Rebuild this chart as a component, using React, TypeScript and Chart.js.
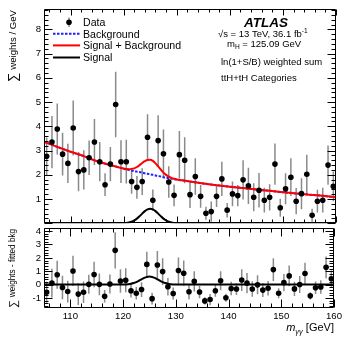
import React, { useEffect, useRef } from 'react';
import { Chart, registerables } from 'chart.js';

Chart.register(...registerables);

const FONT = "'Liberation Sans', Arial, Helvetica, sans-serif";

// ---------------- data ----------------
const massBins = [
  105.5, 106.5, 107.5, 108.5, 109.5, 110.5, 111.5, 112.5, 113.5, 114.5,
  115.5, 116.5, 117.5, 118.5, 119.5, 120.5, 121.5, 122.5, 123.5, 124.5,
  125.5, 126.5, 127.5, 128.5, 129.5, 130.5, 131.5, 132.5, 133.5, 134.5,
  135.5, 136.5, 137.5, 138.5, 139.5, 140.5, 141.5, 142.5, 143.5, 144.5,
  145.5, 146.5, 147.5, 148.5, 149.5, 150.5, 151.5, 152.5, 153.5, 154.5,
  155.5, 156.5, 157.5, 158.5, 159.5,
];

const dataValues = [
  2.76, 3.35, 3.89, 2.85, 2.47, 3.93, 2.13, 2.2, 2.7, 3.35,
  2.54, 1.59, 2.44, 4.9, 2.54, 2.54, 1.72, 1.48, 1.72, 3.55,
  0.95, 3.41, 2.87, 1.7, 1.15, 2.83, 2.6, 1.18, 1.93, 1.11,
  0.41, 0.48, 1.11, 1.83, 0.54, 1.21, 1.14, 1.79, 1.54, 1.07,
  1.36, 0.95, 1.07, 2.44, 0.64, 1.42, 1.9, 0.91, 1.22, 2.02,
  0.33, 0.91, 0.95, 2.4, 1.52,
];

const dataErrors = [
  0.78, 1.08, 1.05, 0.88, 0.81, 1.13, 0.81, 0.81, 0.71, 0.95,
  0.81, 0.47, 0.71, 1.35, 0.88, 0.9, 0.5, 0.47, 0.55, 0.95,
  0.44, 1.05, 1.0, 0.65, 0.45, 0.98, 0.95, 0.55, 0.75, 0.47,
  0.27, 0.42, 0.44, 0.71, 0.3, 0.51, 0.44, 0.81, 0.75, 0.58,
  0.71, 0.51, 0.54, 0.85, 0.37, 0.64, 0.78, 0.54, 0.64, 0.81,
  0.27, 0.47, 0.51, 0.81, 0.61,
];

const residualValues = [
  -0.57, 0.11, 0.74, -0.22, -0.52, 1.02, -0.71, -0.57, 0.02, 0.76,
  0.02, -0.87, 0.04, 2.56, 0.27, 0.32, -0.46, -0.65, -0.37, 1.51,
  -1.05, 1.46, 0.97, -0.16, -0.67, 1.05, 0.85, -0.54, 0.24, -0.55,
  -1.22, -1.12, -0.46, 0.28, -0.98, -0.29, -0.33, 0.34, 0.11, -0.33,
  -0.02, -0.41, -0.27, 1.12, -0.65, 0.15, 0.65, -0.32, 0.01, 0.83,
  -0.84, -0.24, -0.18, 1.29, 0.44,
];

const bkgMass = [
  105, 107.5, 110, 112.5, 115, 117.5,
  119, 119.5, 120, 120.5, 121, 121.5, 122, 122.5, 123, 123.5, 124, 124.5, 125,
  125.5, 126, 126.5, 127, 127.5, 128, 128.5, 129, 129.5, 130, 130.5, 131,
  132.5, 135, 137.5, 140, 142.5, 145, 147.5, 150, 152.5, 155, 157.5, 160,
];
const bkgValues = [
  3.37, 3.15, 2.95, 2.77, 2.56, 2.4,
  2.31, 2.28, 2.25, 2.22, 2.2, 2.18, 2.15, 2.13, 2.11, 2.09, 2.06, 2.04, 2.02,
  2.0, 1.97, 1.95, 1.93, 1.9, 1.88, 1.86, 1.84, 1.82, 1.8, 1.78, 1.77,
  1.72, 1.64, 1.57, 1.51, 1.45, 1.39, 1.34, 1.28, 1.23, 1.18, 1.13, 1.07,
];

const signalMass = [
  105,
  119, 119.5, 120, 120.5, 121, 121.5, 122, 122.5, 123, 123.5, 124, 124.5, 125,
  125.5, 126, 126.5, 127, 127.5, 128, 128.5, 129, 129.5, 130, 130.5, 131,
  160,
];
const signalValues = [
  0,
  0.001, 0.002, 0.006, 0.015, 0.032, 0.063, 0.115, 0.19, 0.288, 0.397, 0.499, 0.573, 0.6,
  0.573, 0.499, 0.397, 0.288, 0.19, 0.115, 0.063, 0.032, 0.015, 0.006, 0.002, 0.001,
  0,
];

const xTickValues = [110, 120, 130, 140, 150, 160];
const topYTickValues = [1, 2, 3, 4, 5, 6, 7, 8];
const bottomYTickValues = [-1, 0, 1, 2, 3, 4];
const legendLabels = ['Data', 'Background', 'Signal + Background', 'Signal'];

// ---------------- helpers ----------------
const signalAt = (m: number) => {
  const i = signalMass.indexOf(m);
  return i >= 0 ? signalValues[i] : 0;
};

type Seg = { t: string; size: number; dy?: number; bold?: boolean; italic?: boolean };
function segFont(s: Seg) {
  return `${s.italic ? 'italic ' : ''}${s.bold ? 'bold ' : ''}${s.size}px ${FONT}`;
}
function measureSegs(ctx: CanvasRenderingContext2D, segs: Seg[]) {
  let w = 0;
  for (const s of segs) {
    ctx.font = segFont(s);
    w += ctx.measureText(s.t).width;
  }
  return w;
}
function drawSegs(ctx: CanvasRenderingContext2D, x: number, y: number, segs: Seg[]) {
  let cx = x;
  for (const s of segs) {
    ctx.font = segFont(s);
    ctx.fillText(s.t, cx, y + (s.dy || 0));
    cx += ctx.measureText(s.t).width;
  }
}

function drawRotatedTitle(
  ctx: CanvasRenderingContext2D, baseX: number, bottomY: number,
  sigmaSize: number, textSize: number, text: string,
) {
  ctx.save();
  ctx.translate(baseX, bottomY);
  ctx.rotate(-Math.PI / 2);
  ctx.fillStyle = '#000';
  ctx.textAlign = 'left';
  ctx.textBaseline = 'alphabetic';
  ctx.font = `${sigmaSize}px ${FONT}`;
  ctx.fillText('\u2211', 0, 1.5);
  const sw = ctx.measureText('\u2211').width;
  ctx.font = `${textSize}px ${FONT}`;
  ctx.fillText(text, sw + 3, 0);
  ctx.restore();
}

type FrameCfg = {
  xMajor: number; xMinor: number; yMajor: number; yMinor: number;
  xMajLen: number; xMinLen: number; yMajLen: number; yMinLen: number;
};

function makeFramePlugin(cfg: FrameCfg) {
  return {
    id: 'frameTicks',
    afterDraw(chart: any) {
      const { ctx, chartArea: a } = chart;
      const xs = chart.scales.x;
      const ys = chart.scales.y;
      const L = Math.round(a.left) + 0.5;
      const R = Math.round(a.right) - 0.5;
      const T = Math.round(a.top) + 0.5;
      const B = Math.round(a.bottom) - 0.5;
      ctx.save();
      ctx.strokeStyle = '#000';
      ctx.lineWidth = 1;
      ctx.beginPath();
      ctx.rect(L, T, R - L, B - T);
      ctx.stroke();
      ctx.beginPath();
      const isMaj = (v: number, maj: number) => Math.abs(v / maj - Math.round(v / maj)) < 1e-6;
      for (let k = Math.ceil(xs.min / cfg.xMinor); k <= Math.floor(xs.max / cfg.xMinor); k++) {
        const v = k * cfg.xMinor;
        const len = isMaj(v, cfg.xMajor) ? cfg.xMajLen : cfg.xMinLen;
        const px = Math.round(xs.getPixelForValue(v)) + 0.5;
        ctx.moveTo(px, B); ctx.lineTo(px, B - len);
        ctx.moveTo(px, T); ctx.lineTo(px, T + len);
      }
      for (let k = Math.ceil(ys.min / cfg.yMinor - 1e-9); k <= Math.floor(ys.max / cfg.yMinor + 1e-9); k++) {
        const v = k * cfg.yMinor;
        const len = isMaj(v, cfg.yMajor) ? cfg.yMajLen : cfg.yMinLen;
        const py = Math.round(ys.getPixelForValue(v)) + 0.5;
        ctx.moveTo(L, py); ctx.lineTo(L + len, py);
        ctx.moveTo(R, py); ctx.lineTo(R - len, py);
      }
      ctx.stroke();
      ctx.restore();
    },
  };
}

function makeErrorBarPlugin(values: number[], errors: number[]) {
  return {
    id: 'errorBars',
    beforeDatasetsDraw(chart: any) {
      const { ctx, chartArea: a } = chart;
      const xs = chart.scales.x;
      const ys = chart.scales.y;
      ctx.save();
      ctx.beginPath();
      ctx.rect(a.left, a.top, a.right - a.left, a.bottom - a.top);
      ctx.clip();
      ctx.strokeStyle = '#8a8a8a';
      ctx.lineWidth = 1.5;
      ctx.beginPath();
      massBins.forEach((m, i) => {
        const px = xs.getPixelForValue(m);
        ctx.moveTo(px, ys.getPixelForValue(values[i] - errors[i]));
        ctx.lineTo(px, ys.getPixelForValue(values[i] + errors[i]));
      });
      ctx.stroke();
      ctx.restore();
    },
  };
}

const topTextPlugin = {
  id: 'topText',
  afterDraw(chart: any) {
    const ctx: CanvasRenderingContext2D = chart.ctx;
    ctx.save();
    ctx.fillStyle = '#000';
    ctx.textAlign = 'left';
    ctx.textBaseline = 'alphabetic';

    // legend
    const lx0 = 53, lx1 = 80, tx = 83;
    const base = [26, 37.6, 49.2, 61.3];
    // Data marker
    ctx.strokeStyle = '#8a8a8a';
    ctx.lineWidth = 1.5;
    ctx.beginPath();
    ctx.moveTo(69, base[0] - 8.5);
    ctx.lineTo(69, base[0] + 1);
    ctx.stroke();
    ctx.beginPath();
    ctx.arc(69, base[0] - 3.8, 2.8, 0, Math.PI * 2);
    ctx.fill();
    // Background
    ctx.setLineDash([2.5, 1.5]);
    ctx.strokeStyle = '#1f1fff';
    ctx.lineWidth = 2;
    ctx.beginPath();
    ctx.moveTo(lx0, base[1] - 3.8);
    ctx.lineTo(lx1, base[1] - 3.8);
    ctx.stroke();
    ctx.setLineDash([]);
    // S+B
    ctx.strokeStyle = '#ff0000';
    ctx.beginPath();
    ctx.moveTo(lx0, base[2] - 3.8);
    ctx.lineTo(lx1, base[2] - 3.8);
    ctx.stroke();
    // Signal
    ctx.strokeStyle = '#000';
    ctx.beginPath();
    ctx.moveTo(lx0, base[3] - 3.8);
    ctx.lineTo(lx1, base[3] - 3.8);
    ctx.stroke();
    ctx.font = `10.6px ${FONT}`;
    legendLabels.forEach((l, i) => ctx.fillText(l, tx, base[i]));

    // annotations
    drawSegs(ctx, 244, 26.7, [{ t: 'ATLAS', size: 13.5, bold: true, italic: true }]);
    drawSegs(ctx, 218, 36.7, [
      { t: '\u221As = 13 TeV, 36.1 fb', size: 9.5 },
      { t: '-1', size: 6.6, dy: -3.6 },
    ]);
    drawSegs(ctx, 227, 46.7, [
      { t: 'm', size: 9.5 },
      { t: 'H', size: 6.6, dy: 2.4 },
      { t: ' = 125.09 GeV', size: 9.5 },
    ]);
    drawSegs(ctx, 221, 64.6, [{ t: 'ln(1+S/B) weighted sum', size: 9.5 }]);
    drawSegs(ctx, 221, 80.8, [{ t: 'ttH+tH Categories', size: 9.5 }]);
    ctx.restore();

    drawRotatedTitle(ctx, 15.5, 82, 13, 9.6, 'weights / GeV');
  },
};

const bottomTextPlugin = {
  id: 'bottomText',
  afterDraw(chart: any) {
    const ctx: CanvasRenderingContext2D = chart.ctx;
    const a = chart.chartArea;
    ctx.save();
    ctx.fillStyle = '#000';
    ctx.textAlign = 'left';
    ctx.textBaseline = 'alphabetic';
    const segs: Seg[] = [
      { t: 'm', size: 11, italic: true },
      { t: '\u03B3\u03B3', size: 7.5, italic: true, dy: 2.6 },
      { t: ' [GeV]', size: 11 },
    ];
    const w = measureSegs(ctx, segs);
    drawSegs(ctx, a.right - w, a.bottom + 23, segs);
    ctx.restore();
    drawRotatedTitle(ctx, 15, a.bottom, 11, 8.2, 'weights - fitted bkg');
  },
};

// ---------------- component ----------------
export default function App() {
  const topRef = useRef<HTMLCanvasElement | null>(null);
  const botRef = useRef<HTMLCanvasElement | null>(null);

  useEffect(() => {
    const tickFont = { family: FONT, size: 9.6 };
    const dots = (values: number[]) => ({
      type: 'scatter' as const,
      data: massBins.map((m, i) => ({ x: m, y: values[i] })),
      pointRadius: 2.8,
      pointBackgroundColor: '#000',
      pointBorderWidth: 0,
      showLine: false,
      order: 0,
    });
    const curve = (pts: { x: number; y: number }[], color: string, width: number, order: number, dash?: number[]) => ({
      type: 'scatter' as const,
      data: pts,
      showLine: true,
      borderColor: color,
      borderWidth: width,
      borderDash: dash || [],
      pointRadius: 0,
      cubicInterpolationMode: 'monotone' as const,
      fill: false,
      order,
    });

    const bkgPts = bkgMass.map((m, i) => ({ x: m, y: bkgValues[i] }));
    const sbPts = bkgMass.map((m, i) => ({ x: m, y: bkgValues[i] + signalAt(m) }));
    const sigPts = signalMass.map((m, i) => ({ x: m, y: signalValues[i] }));

    const topChart = new Chart(topRef.current as HTMLCanvasElement, {
      type: 'scatter',
      data: {
        datasets: [
          dots(dataValues),
          curve(sbPts, '#ff0000', 2, 1),
          curve(bkgPts, '#1f1fff', 2, 2, [2.5, 1.5]),
          curve(sigPts, '#000', 2, 3),
        ] as any,
      },
      options: {
        animation: false,
        responsive: false,
        devicePixelRatio: 1,
        events: [],
        layout: { padding: { left: 0, right: 9, top: 7, bottom: 7 } },
        plugins: { legend: { display: false }, tooltip: { enabled: false } },
        scales: {
          x: { type: 'linear', min: 105, max: 160, display: false },
          y: {
            type: 'linear', min: 0, max: 8.85,
            afterBuildTicks: (s: any) => { s.ticks = topYTickValues.map((v) => ({ value: v })); },
            afterFit: (s: any) => { s.width = 44; },
            grid: { display: false, drawTicks: false },
            border: { display: false },
            ticks: { font: tickFont, color: '#000', padding: 3 },
          },
        },
      } as any,
      plugins: [
        makeErrorBarPlugin(dataValues, dataErrors),
        makeFramePlugin({ xMajor: 10, xMinor: 2, yMajor: 1, yMinor: 0.2, xMajLen: 6, xMinLen: 3, yMajLen: 8, yMinLen: 4 }),
        topTextPlugin,
      ],
    });

    const botChart = new Chart(botRef.current as HTMLCanvasElement, {
      type: 'scatter',
      data: {
        datasets: [
          dots(residualValues),
          curve(sigPts, '#000', 2, 3),
        ] as any,
      },
      options: {
        animation: false,
        responsive: false,
        devicePixelRatio: 1,
        events: [],
        layout: { padding: { left: 0, right: 9, top: 6, bottom: 0 } },
        plugins: { legend: { display: false }, tooltip: { enabled: false } },
        scales: {
          x: {
            type: 'linear', min: 105, max: 160,
            afterBuildTicks: (s: any) => { s.ticks = xTickValues.map((v) => ({ value: v })); },
            afterFit: (s: any) => { s.height = 29; },
            grid: { display: false, drawTicks: false },
            border: { display: false },
            ticks: { font: tickFont, color: '#000', padding: 3, maxRotation: 0, autoSkip: false },
          },
          y: {
            type: 'linear', min: -1.75, max: 4.25,
            afterBuildTicks: (s: any) => { s.ticks = bottomYTickValues.map((v) => ({ value: v })); },
            afterFit: (s: any) => { s.width = 44; },
            grid: { display: false, drawTicks: false },
            border: { display: false },
            ticks: { font: tickFont, color: '#000', padding: 3 },
          },
        },
      } as any,
      plugins: [
        makeErrorBarPlugin(residualValues, dataErrors),
        makeFramePlugin({ xMajor: 10, xMinor: 2, yMajor: 1, yMinor: 0.2, xMajLen: 8, xMinLen: 4, yMajLen: 8, yMinLen: 4 }),
        bottomTextPlugin,
      ],
    });

    return () => {
      topChart.destroy();
      botChart.destroy();
    };
  }, []);

  return (
    <div style={{ position: 'fixed', left: 0, top: 0, width: 345, height: 337, background: '#fff', overflow: 'hidden' }}>
      <canvas ref={botRef} width={345} height={118} style={{ position: 'absolute', left: 0, top: 219 }} />
      <canvas ref={topRef} width={345} height={232} style={{ position: 'absolute', left: 0, top: 0 }} />
    </div>
  );
}
